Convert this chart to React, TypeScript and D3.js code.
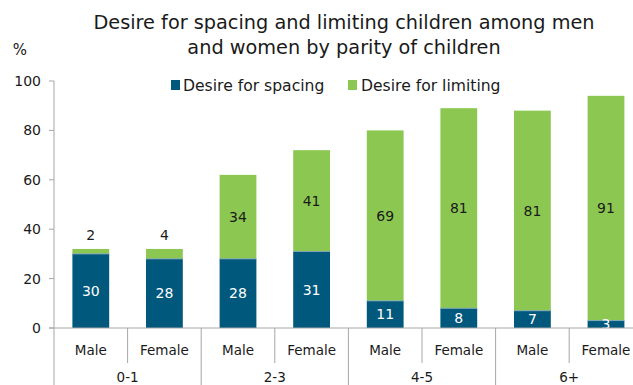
import React from "react";
import * as d3 from "d3";

const categories = ["Male", "Female", "Male", "Female", "Male", "Female", "Male", "Female"];
const groups = ["0-1", "2-3", "4-5", "6+"];
const spacing = [30, 28, 28, 31, 11, 8, 7, 3];
const limiting = [2, 4, 34, 41, 69, 81, 81, 91];
const yTicks = [0, 20, 40, 60, 80, 100];
const titleLines = ["Desire for spacing and limiting children among men", "and women by parity of children"];
const legendLabels = ["Desire for spacing", "Desire for limiting"];

const W = 633, H = 385;
const BLUE = "#00587c", GREEN = "#8cc851";
const FONT = "'DejaVu Sans', sans-serif";

export default function App() {
  const x0 = 54;
  const step = 73.6;
  const x = d3.scaleBand<number>().domain(d3.range(categories.length)).range([x0, x0 + step * categories.length]).paddingInner(0.5).paddingOuter(0.25);
  const y = d3.scaleLinear().domain([0, 100]).range([328, 81]);
  const bw = x.bandwidth();

  return (
    <svg width={W} height={H} style={{ position: "absolute", left: 0, top: 0, fontFamily: FONT }}>
      <rect width={W} height={H} fill="#fff" />
      {titleLines.map((t, i) => (
        <text key={i} x={344} y={29 + i * 25} textAnchor="middle" fontSize={19.3} fill="#1a1a1a">{t}</text>
      ))}
      <text x={20} y={55} textAnchor="middle" fontSize={15} fill="#1a1a1a">%</text>
      {/* y axis */}
      <line x1={x0} x2={x0} y1={y(100)} y2={y(0)} stroke="#a6a6a6" />
      {yTicks.map(t => (
        <g key={t}>
          <line x1={x0 - 5} x2={x0} y1={y(t)} y2={y(t)} stroke="#a6a6a6" />
          <text x={41} y={y(t)} dy="0.36em" textAnchor="end" fontSize={14} fill="#1a1a1a">{t}</text>
        </g>
      ))}
      {/* legend */}
      <rect x={171} y={80} width={9} height={10} fill={BLUE} />
      <text x={183} y={91} fontSize={15.6} fill="#1a1a1a">{legendLabels[0]}</text>
      <rect x={348} y={80} width={9} height={10} fill={GREEN} />
      <text x={361} y={91} fontSize={15.6} fill="#1a1a1a">{legendLabels[1]}</text>
      {/* bars */}
      {categories.map((c, i) => {
        const bx = x(i)!;
        const s = spacing[i], l = limiting[i];
        const small = l < 10;
        return (
          <g key={i}>
            <rect x={bx} y={y(s)} width={bw} height={y(0) - y(s)} fill={BLUE} />
            <rect x={bx} y={y(s + l)} width={bw} height={y(s) - y(s + l)} fill={GREEN} />
            <line x1={bx} x2={bx + bw} y1={y(s)} y2={y(s)} stroke="#7fa6b8" strokeWidth={1} />
            <text x={bx + bw / 2} y={y(s / 2)} dy="0.36em" textAnchor="middle" fontSize={14} fill="#fff">{s}</text>
            <text x={bx + bw / 2} y={small ? y(s + l) - 14 : y(s + l / 2)} dy="0.36em" textAnchor="middle" fontSize={14} fill="#1a1a1a">{l}</text>
          </g>
        );
      })}
      {/* x axis */}
      <line x1={x0 - 5} x2={W} y1={y(0)} y2={y(0)} stroke="#a6a6a6" />
      {d3.range(categories.length + 1).map(k => (
        <line key={k} x1={x0 + k * step} x2={x0 + k * step} y1={y(0)} y2={k % 2 === 0 ? H : 363} stroke="#a6a6a6" />
      ))}
      {categories.map((c, i) => (
        <text key={i} x={x0 + (i + 0.5) * step} y={350} dy="0.36em" textAnchor="middle" fontSize={13.5} fill="#1a1a1a">{c}</text>
      ))}
      {groups.map((g, i) => (
        <text key={i} x={x0 + (i + 0.5) * 2 * step} y={377} dy="0.36em" textAnchor="middle" fontSize={13.5} fill="#1a1a1a">{g}</text>
      ))}
    </svg>
  );
}
